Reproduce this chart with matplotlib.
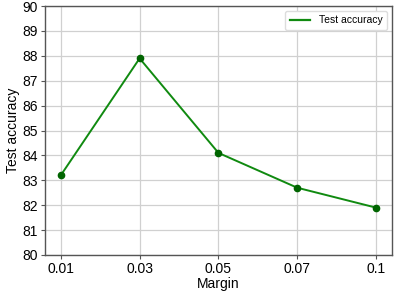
import numpy as np
import matplotlib
matplotlib.use("Agg")
import matplotlib.pyplot as plt
from matplotlib.lines import Line2D

plt.rcParams['font.family'] = ['Liberation Sans', 'DejaVu Sans']

margins = ['0.01', '0.03', '0.05', '0.07', '0.1']
test_acc = [83.2, 87.9, 84.1, 82.7, 81.9]

fig = plt.figure(figsize=(3.95, 2.91), dpi=100)
ax = fig.add_axes([0.114, 0.124, 0.878, 0.855])

x = np.arange(len(margins))
ax.plot(x, test_acc, color='#108a10', lw=1.4, marker='o', ms=4.5,
        mfc='#006400', mec='#006400')

ax.set_xticks(x)
ax.set_xticklabels(margins)
ax.set_xlim(-0.2, 4.2)
ax.set_ylim(80, 90)
ax.set_yticks(np.arange(80, 91, 1))
ax.grid(True, color='#d0d0d0', lw=0.9)
ax.set_axisbelow(True)
for s in ax.spines.values():
    s.set_color('#555555')
    s.set_linewidth(1.0)
ax.tick_params(labelsize=10, length=3, width=0.8, color='#555555', pad=2)
ax.set_xlabel('Margin', fontsize=10, labelpad=1)
ax.set_ylabel('Test accuracy', fontsize=10, labelpad=2)
handle = Line2D([], [], color='#108a10', lw=1.6)
ax.legend([handle], ['Test accuracy'], loc='upper right', fontsize=7.5,
          handlelength=2.0, borderpad=0.4, framealpha=1, edgecolor='#dddddd')

fig.savefig('out.png', dpi=100)
